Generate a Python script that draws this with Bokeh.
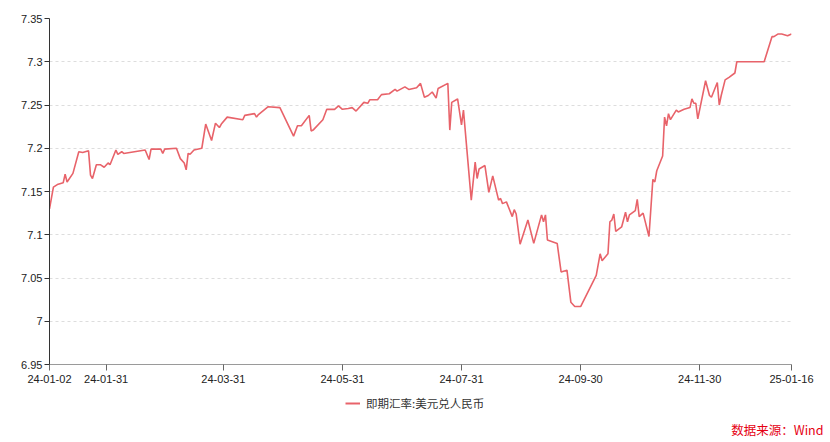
import pandas as pd
from bokeh.plotting import figure
from bokeh.layouts import column
from bokeh.models import (Range1d, FixedTicker, DatetimeTickFormatter, Legend,
                          LegendItem, Title, ColumnDataSource)
from bokeh.embed import file_html
from bokeh.resources import INLINE

# ---- data ----
dates = [
    "2024-01-02", "2024-01-04", "2024-01-06", "2024-01-09", "2024-01-10", "2024-01-11",
    "2024-01-14", "2024-01-17", "2024-01-19", "2024-01-22", "2024-01-23", "2024-01-24",
    "2024-01-26", "2024-01-28", "2024-01-30", "2024-02-01", "2024-02-02", "2024-02-05",
    "2024-02-06", "2024-02-08", "2024-02-09", "2024-02-20", "2024-02-22", "2024-02-23",
    "2024-02-28", "2024-02-29", "2024-03-01", "2024-03-07", "2024-03-09", "2024-03-11",
    "2024-03-12", "2024-03-13", "2024-03-14", "2024-03-16", "2024-03-20", "2024-03-22",
    "2024-03-25", "2024-03-27", "2024-03-29", "2024-03-30", "2024-04-02", "2024-04-10",
    "2024-04-11", "2024-04-16", "2024-04-17", "2024-04-18", "2024-04-23", "2024-04-29",
    "2024-05-06", "2024-05-08", "2024-05-10", "2024-05-14", "2024-05-15", "2024-05-16",
    "2024-05-21", "2024-05-23", "2024-05-27", "2024-05-29", "2024-05-31", "2024-06-03",
    "2024-06-05", "2024-06-07", "2024-06-11", "2024-06-13", "2024-06-14", "2024-06-18",
    "2024-06-20", "2024-06-24", "2024-06-27", "2024-06-28", "2024-07-02", "2024-07-04",
    "2024-07-08", "2024-07-10", "2024-07-12", "2024-07-14", "2024-07-16", "2024-07-18",
    "2024-07-19", "2024-07-24", "2024-07-25", "2024-07-26", "2024-07-29", "2024-07-31",
    "2024-08-01", "2024-08-05", "2024-08-07", "2024-08-08", "2024-08-09", "2024-08-12",
    "2024-08-14", "2024-08-16", "2024-08-19", "2024-08-20", "2024-08-21", "2024-08-23",
    "2024-08-26", "2024-08-27", "2024-08-28", "2024-08-30", "2024-09-03", "2024-09-06",
    "2024-09-10", "2024-09-11", "2024-09-12", "2024-09-13", "2024-09-18", "2024-09-20",
    "2024-09-23", "2024-09-25", "2024-09-27", "2024-09-30", "2024-10-08", "2024-10-10",
    "2024-10-11", "2024-10-14", "2024-10-15", "2024-10-16", "2024-10-17", "2024-10-18",
    "2024-10-21", "2024-10-23", "2024-10-24", "2024-10-25", "2024-10-28", "2024-10-29",
    "2024-10-30", "2024-11-01", "2024-11-04", "2024-11-06", "2024-11-07", "2024-11-08",
    "2024-11-11", "2024-11-12", "2024-11-13", "2024-11-14", "2024-11-15", "2024-11-18",
    "2024-11-19", "2024-11-22", "2024-11-25", "2024-11-26", "2024-11-27", "2024-11-28",
    "2024-11-29", "2024-12-03", "2024-12-05", "2024-12-06", "2024-12-09", "2024-12-10",
    "2024-12-11", "2024-12-13", "2024-12-15", "2024-12-18", "2024-12-19", "2025-01-02",
    "2025-01-06", "2025-01-07", "2025-01-09", "2025-01-11", "2025-01-14", "2025-01-16",
]
usdcny = [
    7.130, 7.155, 7.158, 7.160, 7.170, 7.161,
    7.171, 7.196, 7.195, 7.197, 7.169, 7.165,
    7.181, 7.181, 7.178, 7.183, 7.181, 7.198,
    7.193, 7.196, 7.194, 7.198, 7.187, 7.199,
    7.199, 7.194, 7.199, 7.200, 7.188, 7.183,
    7.175, 7.194, 7.193, 7.198, 7.200, 7.228,
    7.209, 7.229, 7.224, 7.228, 7.236, 7.233,
    7.238, 7.240, 7.236, 7.239, 7.248, 7.247,
    7.214, 7.226, 7.226, 7.238, 7.220, 7.221,
    7.233, 7.245, 7.245, 7.249, 7.245, 7.246,
    7.247, 7.243, 7.253, 7.252, 7.256, 7.256,
    7.262, 7.263, 7.268, 7.266, 7.271, 7.268,
    7.270, 7.275, 7.259, 7.261, 7.265, 7.258,
    7.269, 7.275, 7.221, 7.253, 7.257, 7.227,
    7.244, 7.140, 7.184, 7.165, 7.176, 7.180,
    7.149, 7.168, 7.140, 7.142, 7.136, 7.138,
    7.121, 7.129, 7.124, 7.089, 7.117, 7.090,
    7.123, 7.115, 7.123, 7.094, 7.090, 7.057,
    7.059, 7.022, 7.017, 7.017, 7.053, 7.078,
    7.070, 7.078, 7.115, 7.117, 7.124, 7.104,
    7.109, 7.126, 7.115, 7.123, 7.128, 7.141,
    7.121, 7.125, 7.098, 7.164, 7.161, 7.174,
    7.191, 7.236, 7.226, 7.240, 7.233, 7.244,
    7.242, 7.245, 7.247, 7.257, 7.252, 7.252,
    7.234, 7.278, 7.261, 7.259, 7.276, 7.250,
    7.261, 7.279, 7.282, 7.287, 7.300, 7.300,
    7.329, 7.329, 7.332, 7.332, 7.330, 7.332,
]
x_tick_dates = ["2024-01-02", "2024-01-31", "2024-03-31", "2024-05-31",
                "2024-07-31", "2024-09-30", "2024-11-30", "2025-01-16"]
y_ticks = [6.95, 7.0, 7.05, 7.1, 7.15, 7.2, 7.25, 7.3, 7.35]
y_tick_labels = ["6.95", "7", "7.05", "7.1", "7.15", "7.2", "7.25", "7.3", "7.35"]
series_name = "即期汇率:美元兑人民币"
source_note = "数据来源：Wind"

LINE_COLOR = "#e8636a"
FONT = "Liberation Sans"

src = ColumnDataSource(dict(date=pd.to_datetime(dates), v=usdcny))

W = 830
H_MAIN, H_FOOT = 390, 52
FRAME_LEFT, FRAME_RIGHT_GAP = 49, 39

# ---- main chart ----
p = figure(width=W, height=H_MAIN, output_backend="svg", toolbar_location=None,
           x_axis_type="datetime",
           x_range=Range1d(pd.Timestamp("2024-01-02"), pd.Timestamp("2025-01-16")),
           y_range=Range1d(6.95, 7.35),
           min_border_left=FRAME_LEFT, min_border_right=FRAME_RIGHT_GAP,
           min_border_top=18, min_border_bottom=26)
p.outline_line_color = None
p.background_fill_color = "white"
p.border_fill_color = "white"

r = p.line("date", "v", source=src, line_color=LINE_COLOR, line_width=1.6)

tick_ms = [pd.Timestamp(d).value / 1e6 for d in x_tick_dates]
p.xaxis.ticker = FixedTicker(ticks=tick_ms)
fmt = "%y-%m-%d"
p.xaxis.formatter = DatetimeTickFormatter(
    milliseconds=fmt, seconds=fmt, minsec=fmt, minutes=fmt, hourmin=fmt,
    hours=fmt, days=fmt, months=fmt, years=fmt)
p.xaxis.axis_line_color = "#9a9a9a"
p.xaxis.major_tick_line_color = "#666666"
p.xaxis.major_tick_out = 6
p.xaxis.major_tick_in = 0
p.xaxis.minor_tick_line_color = None
p.xaxis.major_label_text_font = FONT
p.xaxis.major_label_text_font_size = "11px"
p.xaxis.major_label_text_color = "#222222"
p.xaxis.major_label_standoff = 4

p.yaxis.ticker = FixedTicker(ticks=y_ticks)
p.yaxis.major_label_overrides = {t: s for t, s in zip(y_ticks, y_tick_labels)}
p.yaxis.axis_line_color = "#333333"
p.yaxis.major_tick_line_color = "#333333"
p.yaxis.major_tick_out = 5
p.yaxis.major_tick_in = 0
p.yaxis.minor_tick_line_color = None
p.yaxis.major_label_text_font = FONT
p.yaxis.major_label_text_font_size = "11px"
p.yaxis.major_label_text_color = "#222222"
p.yaxis.major_label_standoff = 2

p.xgrid.grid_line_color = None
p.ygrid.grid_line_color = "#dddddd"
p.ygrid.grid_line_dash = "3 3"

# ---- footer: legend + source note ----
f = figure(width=W, height=H_FOOT, output_backend="svg", toolbar_location=None,
           x_range=Range1d(0, 1), y_range=Range1d(0, 1),
           x_axis_location=None, y_axis_location=None,
           min_border_left=FRAME_LEFT, min_border_right=FRAME_RIGHT_GAP,
           min_border_top=0, min_border_bottom=24)
f.outline_line_color = None
f.xgrid.grid_line_color = None
f.ygrid.grid_line_color = None
f.background_fill_color = "white"
f.border_fill_color = "white"
# legend key: same series, far outside this footer's ranges (not visible)
key = f.line("date", "v", source=src, line_color=LINE_COLOR, line_width=2)

legend = Legend(items=[LegendItem(label=series_name, renderers=[key])],
                location=(345 - FRAME_LEFT, 5), orientation="horizontal",
                border_line_color=None, background_fill_alpha=0,
                padding=0, margin=0, spacing=0,
                glyph_width=15, glyph_height=20, label_height=20,
                label_standoff=6,
                label_text_font="Noto Sans CJK SC", label_text_font_size="11.5px",
                label_text_color="#333333")
f.add_layout(legend, "center")

note = Title(text=source_note, align="right", offset=-(823 - (W - FRAME_RIGHT_GAP)),
             vertical_align="middle", standoff=0,
             text_color="#e60012", text_font="Noto Sans CJK SC",
             text_font_size="12.5px", text_font_style="normal")
f.add_layout(note, "below")

open("out.html", "w").write(file_html(column(p, f, spacing=0), INLINE))
